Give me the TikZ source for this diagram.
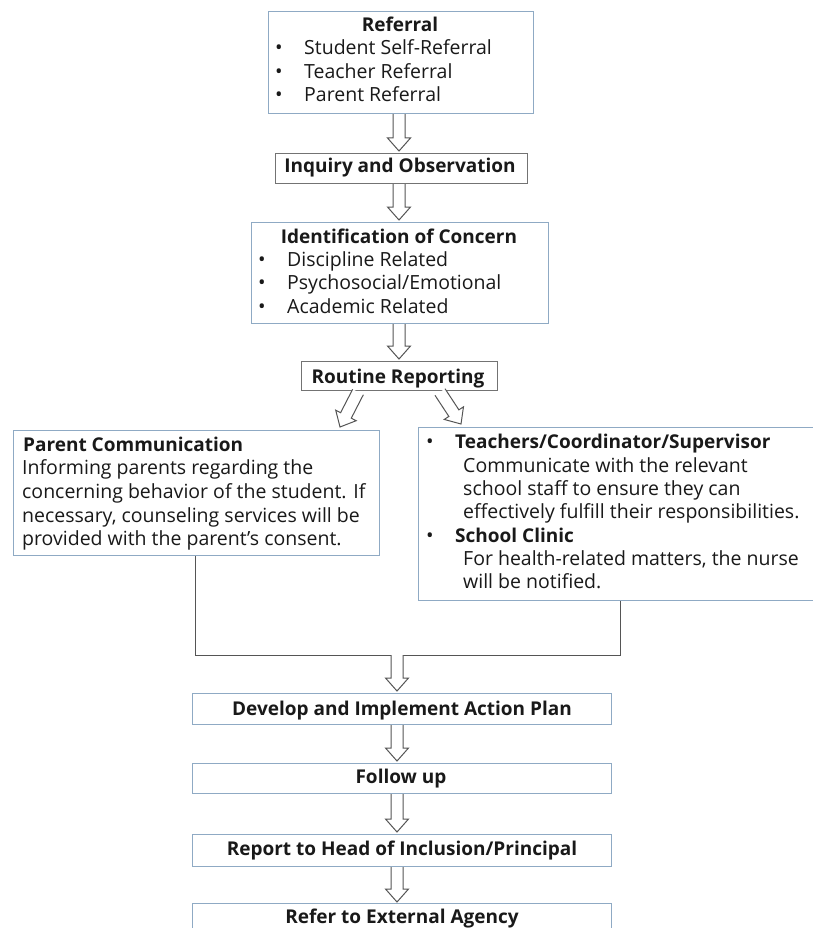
\documentclass[tikz,border=0pt]{standalone}
\usepackage{fontspec}
\setmainfont{Open Sans}
\usetikzlibrary{calc}
\definecolor{boxblue}{RGB}{143,170,196}
\definecolor{boxgray}{RGB}{115,115,115}
\definecolor{arrgray}{RGB}{85,85,85}
\definecolor{txt}{RGB}{25,25,25}
\newcommand{\blockarrow}[2]{%
  \coordinate (ba-s) at (#1);
  \coordinate (ba-e) at (#2);
  \coordinate (ba-h) at ($(ba-e)!13pt!(ba-s)$);
  \draw[arr] ($(ba-s)!6pt!90:(ba-e)$) -- ($(ba-h)!6pt!90:(ba-e)$) -- ($(ba-h)!11.5pt!90:(ba-e)$)
    -- (ba-e) -- ($(ba-h)!11.5pt!-90:(ba-e)$) -- ($(ba-h)!6pt!-90:(ba-e)$) -- ($(ba-s)!6pt!-90:(ba-e)$);
}
\begin{document}
\begin{tikzpicture}[x=1pt,y=-1pt,
  font=\fontsize{19.5}{22}\selectfont, text=txt,
  box/.style={draw=boxblue, line width=1.1pt, anchor=north west, inner sep=0pt},
  gbox/.style={box, draw=boxgray},
  lbl/.style={anchor=base west, inner sep=0pt},
  clbl/.style={anchor=base, inner sep=0pt},
  bul/.style={anchor=base, inner sep=0pt, font=\fontsize{20}{22}\selectfont},
  ttl/.style={font=\fontsize{19}{22}\selectfont\bfseries},
  arr/.style={draw=arrgray, line width=1pt, fill=white, line join=miter},
  conn/.style={draw=arrgray, line width=1pt}]
\fill[white] (0,0) rectangle (813,928);
\useasboundingbox (0,0) rectangle (813,928);

% Referral
\node[box, minimum width=265pt, minimum height=102pt] (ref) at (268,11) {};
\node[clbl, ttl] (refT) at (400,32) {Referral};
\node[bul] (refB1) at (279,55) {•};
\node[lbl] (ref1) at (304,55) {Student Self-Referral};
\node[bul] (refB2) at (279,79) {•};
\node[lbl] (ref2) at (304,79) {Teacher Referral};
\node[bul] (refB3) at (279,102) {•};
\node[lbl] (ref3) at (304,102) {Parent Referral};

% Inquiry
\node[gbox, minimum width=252pt, minimum height=30pt] (inq) at (275,153) {};
\node[clbl, ttl] (inqT) at (400,173) {Inquiry and Observation};

% Identification
\node[box, minimum width=297pt, minimum height=101pt] (iden) at (251,222) {};
\node[clbl, ttl] (idenT) at (399,243) {Identification of Concern};
\node[bul] (idB1) at (262,266) {•};
\node[lbl] (id1) at (287,266) {Discipline Related};
\node[bul] (idB2) at (262,289) {•};
\node[lbl] (id2) at (287,289) {Psychosocial/Emotional};
\node[bul] (idB3) at (262,313) {•};
\node[lbl] (id3) at (287,313) {Academic Related};

% Routine reporting
\node[gbox, minimum width=196pt, minimum height=29pt] (rout) at (301,361) {};
\node[clbl, ttl] (routT) at (398,383) {Routine Reporting};

% Parent communication
\node[box, minimum width=366pt, minimum height=125pt] (par) at (13,430) {};
\node[lbl, ttl] (parT) at (23,451) {Parent Communication};
\node[lbl] (par1) at (22,474) {Informing parents regarding the};
\node[lbl] (par2) at (22,498) {concerning behavior of the student. If};
\node[lbl] (par3) at (22,522) {necessary, counseling services will be};
\node[lbl] (par4) at (22,545) {provided with the parent’s consent.};

% Teachers / clinic
\node[box, minimum width=400pt, minimum height=173pt] (tea) at (418,427) {};
\node[bul] (teB1) at (430,448) {•};
\node[lbl, ttl] (teT1) at (455,448) {Teachers/Coordinator/Supervisor};
\node[lbl] (te1) at (463,472) {Communicate with the relevant};
\node[lbl] (te2) at (463,495) {school staff to ensure they can};
\node[lbl] (te3) at (463,518) {effectively fulfill their responsibilities.};
\node[bul] (teB2) at (430,542) {•};
\node[lbl, ttl] (teT2) at (455,542) {School Clinic};
\node[lbl] (te4) at (463,565) {For health-related matters, the nurse};
\node[lbl] (te5) at (463,588) {will be notified.};

% Bottom chain
\node[box, minimum width=419pt, minimum height=31pt] (dev) at (192,693) {};
\node[clbl, ttl] (devT) at (402,715) {Develop and Implement Action Plan};
\node[box, minimum width=419pt, minimum height=30pt] (fol) at (192,763) {};
\node[clbl, ttl] (folT) at (401,783) {Follow up};
\node[box, minimum width=419pt, minimum height=32pt] (rep) at (192,834) {};
\node[clbl, ttl] (repT) at (402,855) {Report to Head of Inclusion/Principal};
\node[box, minimum width=419pt, minimum height=40pt] (ext) at (192,903) {};
\node[clbl, ttl] (extT) at (402,923) {Refer to External Agency};

% junction lines
\coordinate (j1) at (195,655);
\coordinate (j2) at (620,655);
\coordinate (jm) at (397,655);
\draw[conn] (par.south -| j1) -- (j1) -- (j2) -- (tea.south -| j2);

% arrows
\coordinate (c1) at (399,0);
\blockarrow{ref.south -| c1}{$(inq.north -| c1)+(0,-2)$}
\blockarrow{inq.south -| c1}{$(iden.north -| c1)+(0,-2)$}
\blockarrow{iden.south -| c1}{$(rout.north -| c1)+(0,-2)$}
\coordinate (d1s) at (358,392);
\coordinate (d1e) at (340,427);
\coordinate (d2s) at (440,392);
\coordinate (d2e) at (461,424);
\blockarrow{d1s}{d1e}
\blockarrow{d2s}{d2e}
\blockarrow{jm}{$(dev.north -| jm)+(0,-2)$}
\blockarrow{dev.south -| jm}{$(fol.north -| jm)+(0,-2)$}
\blockarrow{fol.south -| jm}{$(rep.north -| jm)+(0,-2)$}
\blockarrow{rep.south -| jm}{$(ext.north -| jm)+(0,-1)$}
\end{tikzpicture}
\end{document}
